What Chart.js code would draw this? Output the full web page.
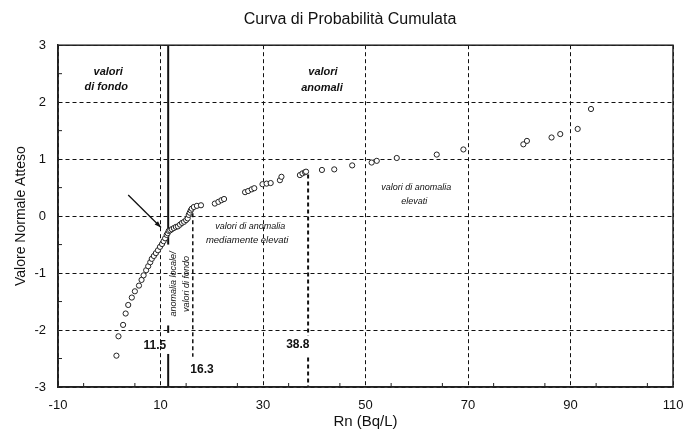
<!DOCTYPE html>
<html>
<head>
<meta charset="utf-8">
<title>Curva di Probabilità Cumulata</title>
<script src="https://cdn.jsdelivr.net/npm/chart.js@4.4.0/dist/chart.umd.min.js"></script>
<style>
  html, body { margin: 0; padding: 0; background: #fff; }
</style>
</head>
<body>
<canvas id="myChart" width="700" height="436"></canvas>
<script>
// Rn (Bq/L) e valore normale atteso
var rnValues = [
  1.4, 1.8, 2.7, 3.2, 3.7, 4.4, 5.0, 5.8, 6.3, 6.7,
  7.2, 7.6, 8.0, 8.3, 8.7, 9.1, 9.5, 9.9, 10.3, 10.6,
  10.9, 11.2, 11.4, 11.6, 11.9, 12.2, 12.6, 13.0, 13.4, 13.8,
  14.2, 14.6, 15.0, 15.3, 15.5, 15.7, 15.9, 16.1, 16.5, 17.1,
  17.9, 20.6, 21.3, 21.9, 22.4, 26.5, 27.1, 27.8, 28.3, 29.9,
  30.7, 31.5, 33.3, 33.6, 37.2, 37.7, 38.2, 38.4, 41.5, 43.9,
  47.4, 51.2, 52.2, 56.1, 63.9, 69.1, 80.8, 81.5, 86.3, 88.0,
  91.4, 94.0
];
var normalScores = [
  -2.45, -2.11, -1.91, -1.71, -1.56, -1.43, -1.32, -1.22, -1.12, -1.04,
  -0.95, -0.88, -0.81, -0.75, -0.70, -0.65, -0.60, -0.54, -0.49, -0.44,
  -0.39, -0.33, -0.30, -0.26, -0.25, -0.23, -0.21, -0.19, -0.18, -0.15,
  -0.12, -0.10, -0.07, -0.04, 0.02, 0.06, 0.10, 0.13, 0.16, 0.18,
  0.19, 0.22, 0.25, 0.28, 0.30, 0.42, 0.44, 0.47, 0.49, 0.56,
  0.57, 0.58, 0.63, 0.69, 0.72, 0.75, 0.77, 0.78, 0.81, 0.82,
  0.89, 0.94, 0.97, 1.02, 1.08, 1.17, 1.26, 1.32, 1.38, 1.44,
  1.53, 1.88
];

var xTicks = [-10, 10, 30, 50, 70, 90, 110];
var yTicks = [-3, -2, -1, 0, 1, 2, 3];

// soglie in Bq/L
var sogliaFondo = 11.5;
var sogliaMedia = 16.3;
var sogliaAlta = 38.8;

var FONT = 'Arial, "Liberation Sans", sans-serif';
Chart.defaults.font.family = FONT;
Chart.defaults.color = '#111';

// tratti verticali delle soglie (interrotti dove ci sono le scritte)
var lineeSoglia = [
  {x: sogliaFondo, y1: 3, y2: -0.5, dash: [], w: 2},
  {x: sogliaFondo, y1: -1.92, y2: -2.05, dash: [], w: 2},
  {x: sogliaFondo, y1: -2.42, y2: -3, dash: [], w: 2},
  {x: sogliaMedia, y1: 0.05, y2: -2.47, dash: [4, 3], w: 1.5},
  {x: sogliaAlta, y1: 0.73, y2: -2.1, dash: [4, 3], w: 2},
  {x: sogliaAlta, y1: -2.48, y2: -3, dash: [4, 3], w: 2}
];

var scritte = [
  {t: 'valori', x: -0.2, y: 2.53, f: 'italic bold 11px ' + FONT},
  {t: 'di fondo', x: -0.6, y: 2.26, f: 'italic bold 11px ' + FONT},
  {t: 'valori', x: 41.7, y: 2.53, f: 'italic bold 11px ' + FONT},
  {t: 'anomali', x: 41.5, y: 2.25, f: 'italic bold 11px ' + FONT},
  {t: 'valori di anomalia', x: 27.5, y: -0.18, f: 'italic 9px ' + FONT},
  {t: 'mediamente elevati', x: 26.9, y: -0.42, f: 'italic 9.5px ' + FONT},
  {t: 'valori di anomalia', x: 59.9, y: 0.51, f: 'italic 9px ' + FONT},
  {t: 'elevati', x: 59.5, y: 0.25, f: 'italic 9px ' + FONT},
  {t: 'anomalia locale/', x: 12.5, y: -1.19, f: 'italic 9px ' + FONT, rot: true},
  {t: 'valori di fondo', x: 15.1, y: -1.19, f: 'italic 9px ' + FONT, rot: true},
  {t: String(sogliaFondo), x: 8.9, y: -2.28, f: 'bold 12px ' + FONT},
  {t: String(sogliaMedia), x: 18.1, y: -2.7, f: 'bold 12px ' + FONT},
  {t: String(sogliaAlta), x: 36.8, y: -2.26, f: 'bold 12px ' + FONT}
];

var extras = {
  id: 'extras',
  beforeDatasetsDraw: function(chart) {
    var ctx = chart.ctx, xs = chart.scales.x, ys = chart.scales.y;
    ctx.save();
    ctx.strokeStyle = '#111';
    lineeSoglia.forEach(function(l) {
      var px = xs.getPixelForValue(l.x);
      ctx.lineWidth = l.w;
      ctx.setLineDash(l.dash);
      ctx.beginPath();
      ctx.moveTo(px, ys.getPixelForValue(l.y1));
      ctx.lineTo(px, ys.getPixelForValue(l.y2));
      ctx.stroke();
    });
    ctx.restore();
  },
  afterDatasetsDraw: function(chart) {
    var ctx = chart.ctx, xs = chart.scales.x, ys = chart.scales.y, a = chart.chartArea;
    ctx.save();
    // cornice
    ctx.strokeStyle = '#222';
    ctx.lineWidth = 1.5;
    ctx.strokeRect(a.left, a.top, a.right - a.left, a.bottom - a.top);
    // tacche minori
    ctx.lineWidth = 1;
    for (var v = -5; v < 110; v += 10) {
      var px = xs.getPixelForValue(v);
      ctx.beginPath(); ctx.moveTo(px, a.bottom); ctx.lineTo(px, a.bottom - 4); ctx.stroke();
    }
    for (var w = -2.5; w < 3; w += 1) {
      var py = ys.getPixelForValue(w);
      ctx.beginPath(); ctx.moveTo(a.left, py); ctx.lineTo(a.left + 4, py); ctx.stroke();
    }
    // freccia
    var x0 = xs.getPixelForValue(3.7), y0 = ys.getPixelForValue(0.37);
    var x1 = xs.getPixelForValue(10.1), y1 = ys.getPixelForValue(-0.2);
    var ang = Math.atan2(y1 - y0, x1 - x0);
    ctx.strokeStyle = '#111';
    ctx.lineWidth = 1.3;
    ctx.beginPath(); ctx.moveTo(x0, y0); ctx.lineTo(x1, y1); ctx.stroke();
    ctx.fillStyle = '#111';
    ctx.beginPath();
    ctx.moveTo(x1, y1);
    ctx.lineTo(x1 - 7 * Math.cos(ang - 0.35), y1 - 7 * Math.sin(ang - 0.35));
    ctx.lineTo(x1 - 7 * Math.cos(ang + 0.35), y1 - 7 * Math.sin(ang + 0.35));
    ctx.closePath(); ctx.fill();
    // scritte
    ctx.textAlign = 'center';
    ctx.textBaseline = 'middle';
    scritte.forEach(function(s) {
      var px = xs.getPixelForValue(s.x), py = ys.getPixelForValue(s.y);
      ctx.font = s.f;
      if (s.rot) {
        ctx.save();
        ctx.translate(px, py);
        ctx.rotate(-Math.PI / 2);
        ctx.fillText(s.t, 0, 0);
        ctx.restore();
      } else {
        ctx.fillText(s.t, px, py);
      }
    });
    ctx.restore();
  }
};

var points = rnValues.map(function(v, i) { return {x: v, y: normalScores[i]}; });

var ctx = document.getElementById('myChart').getContext('2d');
var myChart = new Chart(ctx, {
  type: 'scatter',
  data: {
    datasets: [{
      data: points,
      pointStyle: 'circle',
      pointRadius: 2.6,
      borderWidth: 1,
      borderColor: '#222',
      backgroundColor: '#fff'
    }]
  },
  options: {
    responsive: false,
    animation: false,
    layout: { padding: 0 },
    plugins: {
      legend: { display: false },
      tooltip: { enabled: false },
      title: {
        display: true,
        text: 'Curva di Probabilità Cumulata',
        color: '#111',
        font: { size: 16, weight: 'normal' },
        padding: { top: 10, bottom: 16 }
      }
    },
    scales: {
      x: {
        type: 'linear',
        min: -10,
        max: 110,
        afterBuildTicks: function(scale) {
          scale.ticks = xTicks.map(function(v) { return {value: v}; });
        },
        afterFit: function(scale) { scale.height = 49; },
        grid: { color: '#111', lineWidth: 1, drawTicks: false },
        border: { color: '#222', width: 1.5, dash: [4, 3] },
        ticks: { padding: 11, font: { size: 13 }, color: '#111' },
        title: {
          display: true,
          text: 'Rn (Bq/L)',
          color: '#111',
          font: { size: 15 },
          padding: { top: 0, bottom: 5 }
        }
      },
      y: {
        type: 'linear',
        min: -3,
        max: 3,
        afterBuildTicks: function(scale) {
          scale.ticks = yTicks.map(function(v) { return {value: v}; });
        },
        afterFit: function(scale) { scale.width = 58; },
        grid: { color: '#111', lineWidth: 1, drawTicks: false },
        border: { color: '#222', width: 1.5, dash: [4, 3] },
        ticks: { padding: 12, font: { size: 13 }, color: '#111' },
        title: {
          display: true,
          text: 'Valore Normale Atteso',
          color: '#111',
          font: { size: 14 },
          padding: { top: 13, bottom: 0 }
        }
      },
      yR: {
        type: 'linear',
        position: 'right',
        display: true,
        grid: { display: false },
        border: { display: false },
        ticks: { display: false },
        afterFit: function(scale) { scale.width = 27; }
      }
    }
  },
  plugins: [extras]
});
</script>
</body>
</html>
